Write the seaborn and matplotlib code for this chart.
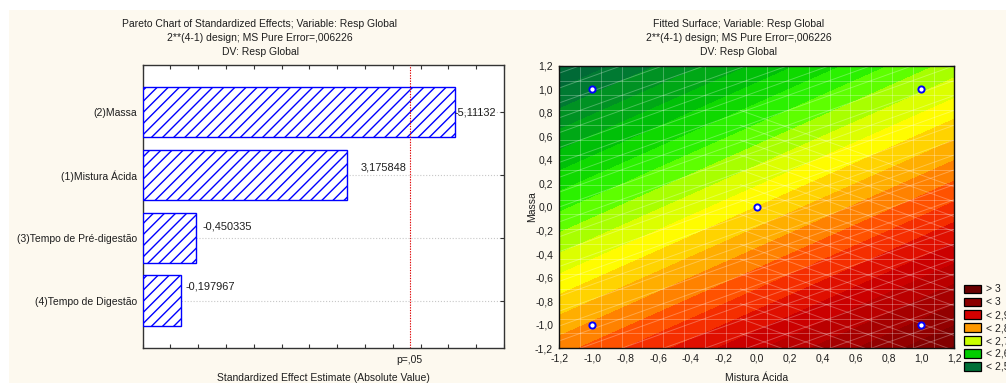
import numpy as np
import pandas as pd
import matplotlib
matplotlib.use("Agg")
import matplotlib.pyplot as plt
import seaborn as sns
from matplotlib.colors import LinearSegmentedColormap, Normalize
from matplotlib.patches import Patch, Rectangle

# ---- Pareto chart data (standardized effects) ----
factors = ["(2)Massa", "(1)Mistura Ácida", "(3)Tempo de Pré-digestão", "(4)Tempo de Digestão"]
t_values = [-5.11132, 3.175848, -0.450335, -0.197967]
t_crit = 4.303          # p = .05 reference line
effect_axis_min = -0.5

# ---- Fitted surface (coded units) ----
intercept = 2.75
coef_mistura = 0.0886
coef_massa = -0.1426
design_mistura = [-1, 1, -1, 1, 0]
design_massa = [-1, -1, 1, 1, 0]

legend_labels = ["> 3", "< 3", "< 2,9", "< 2,8", "< 2,7", "< 2,6", "< 2,5"]
legend_levels = [3.05, 3.0, 2.9, 2.8, 2.7, 2.6, 2.5]

title_left = ["Pareto Chart of Standardized Effects; Variable: Resp Global",
              "2**(4-1) design; MS Pure Error=,006226",
              "DV: Resp Global"]
title_right = ["Fitted Surface; Variable: Resp Global",
               "2**(4-1) design; MS Pure Error=,006226",
               "DV: Resp Global"]

# ---- styling ----
sns.set_theme(style="ticks")
plt.rcParams["font.family"] = ["Liberation Sans", "DejaVu Sans"]
FS = 7.45
TXT = "#1e1e1e"
CREAM = "#FDF9EF"
W, H = 1006, 383

fig = plt.figure(figsize=(W / 100, H / 100), dpi=100, facecolor=CREAM)
fig.add_artist(Rectangle((0, 1 - 10 / H), 1, 10 / H, transform=fig.transFigure,
                         facecolor="white", edgecolor="none", zorder=-5))
fig.add_artist(Rectangle((0, 0), 9 / W, 1, transform=fig.transFigure,
                         facecolor="white", edgecolor="none", zorder=-5))


def px_axes(x0, y0, x1, y1):
    return fig.add_axes([x0 / W, 1 - y1 / H, (x1 - x0) / W, (y1 - y0) / H])


def comma(v):
    v = round(v, 1)
    if v == 0:
        v = 0.0
    return f"{v:.1f}".replace(".", ",")


# ================= Pareto chart =================
ax1 = px_axes(142.7, 65, 504, 347.7)
ax1.set_facecolor("white")
df = pd.DataFrame({"factor": factors, "t": t_values})
df["abs_t"] = df["t"].abs()
sns.barplot(data=df, x="abs_t", y="factor", ax=ax1, color="white",
            edgecolor="#0000FF", linewidth=1.0, width=0.8, zorder=3)
for patch, val in zip(ax1.patches, df["abs_t"]):
    patch.set_x(effect_axis_min)
    patch.set_width(val - effect_axis_min)
    patch.set_hatch("///")
    patch.set_edgecolor("#0000FF")
    patch.set_facecolor("white")

label_offsets = [(0, 0), (10, 5), (5, 8), (3, 10)]
for i, (val, t) in enumerate(zip(df["abs_t"], df["t"])):
    dx, dy = label_offsets[i]
    ax1.annotate(str(t).replace(".", ","), xy=(val, i), xytext=(dx, dy),
                 textcoords="offset points", ha="left", va="center",
                 fontsize=FS + 0.5, color=TXT)

ax1.axvline(t_crit, color="#E00000", linestyle=(0, (1.2, 1.2)), linewidth=0.8, zorder=4)
ax1.annotate("p=,05", xy=(t_crit, 0), xycoords=("data", "axes fraction"),
             xytext=(0, -9), textcoords="offset points", ha="center", va="center",
             fontsize=FS, color=TXT)

ax1.set_xlim(effect_axis_min, 6.0)
ax1.set_ylim(3.75, -0.75)
ax1.set_xticks(np.arange(effect_axis_min, 6.01, 0.5))
ax1.set_xticklabels([])
ax1.grid(axis="y", color="#C8C8C8", linestyle=":", linewidth=0.8)
ax1.set_axisbelow(True)
ax1.tick_params(axis="x", direction="in", length=3, width=0.8, top=True, colors="#333333")
ax1.tick_params(axis="y", direction="in", length=3, width=0.8, right=True,
                labelsize=FS, labelcolor=TXT, pad=4.3, colors="#333333")
for lab in ax1.get_yticklabels():
    lab.set_color(TXT)
ax1.set_ylabel("")
ax1.set_xlabel("Standardized Effect Estimate (Absolute Value)", fontsize=FS, color=TXT, va="center")
ax1.xaxis.set_label_coords(0.5, -(378 - 347.7) / 282.7)
for s in ax1.spines.values():
    s.set_visible(True)
    s.set_color("#333333")
    s.set_linewidth(1.0)

# ================= Fitted surface =================
ax2 = px_axes(559.3, 65.7, 954.3, 348.3)
gx = np.linspace(-1.2, 1.2, 241)
X, Y = np.meshgrid(gx, gx)
Z = intercept + coef_mistura * X + coef_massa * Y

cmap_stops = [(2.45, "#005A30"), (2.5, "#007038"), (2.6, "#00CC00"), (2.65, "#3CFF00"),
              (2.7, "#CCFF00"), (2.735, "#FFFF00"), (2.8, "#FF9900"), (2.85, "#FF3C00"),
              (2.9, "#D50000"), (3.0, "#8B0000"), (3.05, "#6A0000")]
lo, hi = cmap_stops[0][0], cmap_stops[-1][0]
cmap = LinearSegmentedColormap.from_list(
    "surface", [((v - lo) / (hi - lo), c) for v, c in cmap_stops])
norm = Normalize(lo, hi)
levels = np.arange(2.45, 3.0501, 0.025)
ax2.contourf(X, Y, Z, levels=levels, cmap=cmap, norm=norm, zorder=1)

# faint triangular mesh
step = 2.4 / 19
mesh_kw = dict(color="white", alpha=0.28, linewidth=0.7, zorder=2)
for k in range(1, 19):
    ax2.axvline(-1.2 + k * step, **mesh_kw)
    ax2.axhline(-1.2 + k * step, **mesh_kw)
for k in range(0, 30):
    ax2.axline((-1.2, -2.4 + k * step), slope=0.5, **mesh_kw)
xs = np.array([-0.1, 1.2])
for k in range(0, 17):
    c = -1.2 + k * step
    ax2.plot(xs, c - 0.5 * (xs - xs[0]), **mesh_kw)

sns.scatterplot(x=design_mistura, y=design_massa, ax=ax2, s=20, color="white",
                edgecolor="#0000FF", linewidth=1.4, zorder=5)

ticks = np.round(np.arange(-1.2, 1.21, 0.2), 1)
ax2.set_xlim(-1.2, 1.2)
ax2.set_ylim(-1.2, 1.2)
ax2.set_xticks(ticks)
ax2.set_yticks(ticks)
ax2.set_xticklabels([comma(v) for v in ticks])
ax2.set_yticklabels([comma(v) for v in ticks])
ax2.tick_params(direction="in", length=3, width=0.8, top=True, right=True,
                labelsize=FS, labelcolor=TXT, colors="#222222")
ax2.tick_params(axis="x", pad=4.0)
ax2.tick_params(axis="y", pad=4.5)
for lab in ax2.get_xticklabels() + ax2.get_yticklabels():
    lab.set_color(TXT)
ax2.set_xlabel("Mistura Ácida", fontsize=FS, color=TXT, va="center")
ax2.set_ylabel("Massa", fontsize=FS, color=TXT, va="center")
ax2.xaxis.set_label_coords(0.5, -(377.7 - 348.3) / 282.6)
ax2.yaxis.set_label_coords(-(559.3 - 531.7) / 395, 0.5)
for s in ax2.spines.values():
    s.set_color("#111111")
    s.set_linewidth(1.0)

handles = [Patch(facecolor=cmap(norm(v)), edgecolor="black", linewidth=0.9)
           for v in legend_levels]
fig.legend(handles, legend_labels, loc="upper left",
           bbox_to_anchor=(963.5 / W, 1 - 284.5 / H), frameon=False, fontsize=FS,
           handlelength=1.65, handleheight=0.9, labelspacing=0.28,
           handletextpad=0.5, borderpad=0, borderaxespad=0, labelcolor=TXT)

# ---- titles ----
for i, line in enumerate(title_left):
    fig.text(260 / W, 1 - (24 + 14 * i) / H, line, ha="center", va="center",
             fontsize=FS, color=TXT)
for i, line in enumerate(title_right):
    fig.text(739 / W, 1 - (24 + 14 * i) / H, line, ha="center", va="center",
             fontsize=FS, color=TXT)

fig.savefig("out.png", dpi=100, facecolor=CREAM)
